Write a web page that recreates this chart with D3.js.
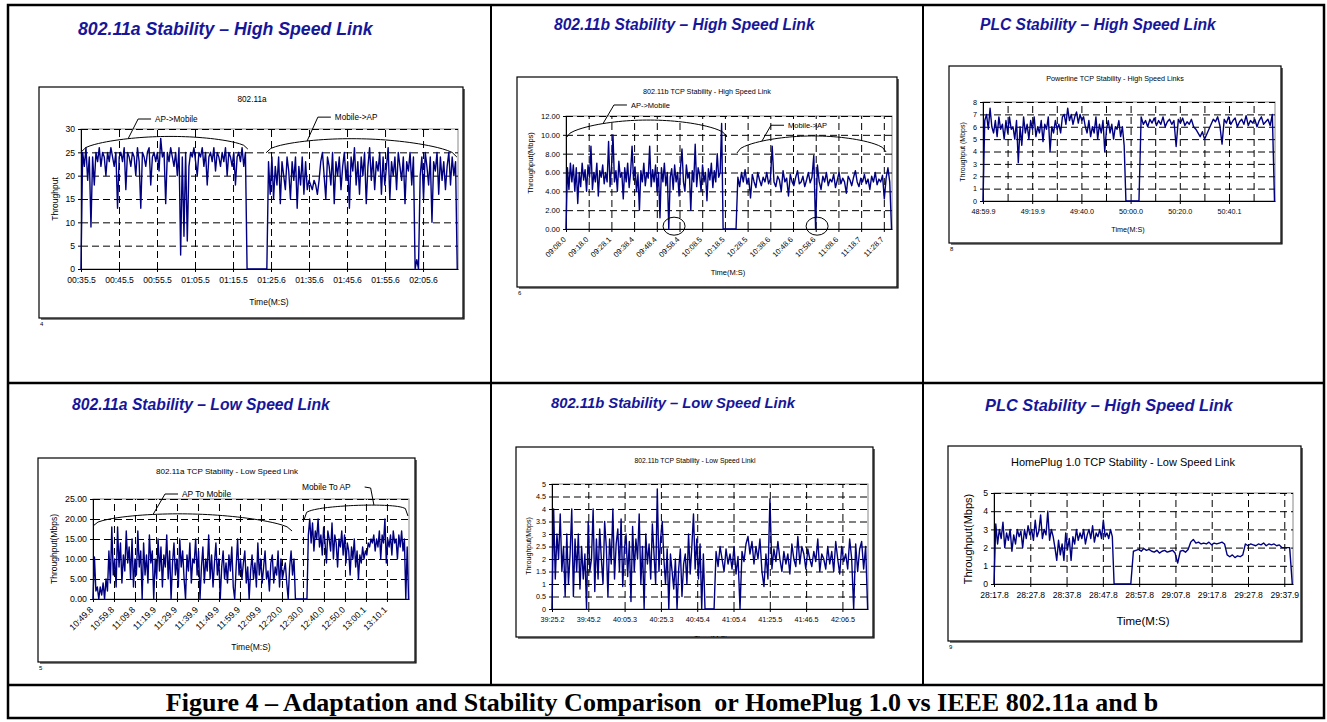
<!DOCTYPE html>
<html>
<head>
<meta charset="utf-8">
<script src="https://cdn.jsdelivr.net/npm/d3@7"></script>
<style>
  body { margin: 0; background: #fff; }
  svg text { font-family: "Liberation Sans", Arial, sans-serif; }
</style>
</head>
<body>
<div class="chart"></div>
<script>
// ---- data (time in seconds from the first tick, throughput) ----

// 802.11a high speed link
var a11HighTicks = ["00:35.5", "00:45.5", "00:55.5", "01:05.5", "01:15.5", "01:25.6", "01:35.6", "01:45.6", "01:55.6", "02:05.6"];
var a11HighApToMobile = [0,25,22,26,19,24,9,24,18,25,23,26,22,25,24,20,25,23,26,24,22,25,13,24,25,23,26,17,25,24,22,25,24,20,26,23,13,25,24,22,25,26,18,24,25,23,25,21,28,24,25,14,25,23,26,24,22,25,20,26,3,24,7,25,6,22,25,24,26,23,20,25,24,26,22,25,18,24,25,23,26,21,25,24,22,25,23,26,20,25,24,22,25,18,24,25,23,26,22,25,0];
var a11HighMobileToAp = [0,23,16,24,15,22,18,24,14,23,20,17,24,21,15,23,19,24,13,22,18,24,16,23,17,19,18,17,19,18,16,19,23,25,20,15,24,22,18,25,14,23,20,24,17,22,25,19,23,13,24,21,26,18,23,16,24,20,25,14,22,26,19,24,17,23,21,25,16,24,18,22,26,15,23,20,24,17,25,22,19,24,14,23,21,25,18,24,0,2,0,20,24,15,25,22,18,24,10,23,21,25,16,24,19,23,17,22,25,18,24,20,23,0];

// 802.11b high speed link
var b11HighTicks = ["09:08.0", "09:18.0", "09:28.1", "09:38.4", "09:48.4", "09:58.4", "10:08.5", "10:18.5", "10:28.5", "10:38.6", "10:48.6", "10:58.6", "11:08.6", "11:18.7", "11:28.7"];
var b11HighApToMobile = [0,6.5,4.2,7,5,6.8,4,6.5,2.7,6,4.5,7,5.2,6.3,4,6.8,5.5,8.8,4.2,6,5,7,3.5,6.2,5.5,6.8,4.8,6,5,9.3,4.5,6.5,10,5,6.2,4,7.2,5.5,6,3.2,6.5,5,7,4.4,6,8.8,5.2,6.6,4,5.8,2,6.2,5,7,4.6,6,5.4,8.8,4.5,6.3,5,6.8,4,6,1.2,6.5,5,7,4.6,6,0,5.5,6.4,4.2,6.8,5,6,3.5,6.5,8.5,5,4,6.8,5.4,6,2,6.2,5,9,4.5,6.5,5.8,4,6.8,5,6,3,6.4,5.2,7,4.4,6.2,5,8,5.5,6,11.2,0];
var b11HighMobileToAp = [0,5.5,4.5,6,5,6.3,4.8,5.4,3.3,5.8,5,4.4,6,5.2,4.6,5.5,5,6,4.8,5.3,8.8,5,4.5,5.6,5.2,4,6.2,5,5.4,3.5,5.8,5,4.6,5.5,6.2,4.8,5,5.6,4.5,5.2,6,4.9,5.5,7.8,0,6.8,5,4.2,5.6,5,6,4.6,5.3,5,5.8,4.4,5.2,6,4.8,5.4,5,3.8,5.6,5.2,4.6,5.5,6.2,5,4.5,5.4,5,5.8,4.8,5.3,4.2,5.6,5,6,4.7,5.3,5,5.7,3.2,5.4,6.5,5,0];

// powerline high speed link
var plcHighTicks = ["48:59.9", "49:19.9", "49:40.0", "50:00.0", "50:20.0", "50:40.1"];
var plcHighFirst = [0,6.5,7,5.8,7.5,6,5.5,6.5,5.2,6.8,5.8,6.2,5,6.5,5.5,6.8,5.8,6,5,6.5,3.1,6,4.5,6.8,5.5,6.2,5,6.5,5.8,6.8,5.2,6,5.5,6.5,4.8,6.2,5.8,6.8,4,6,5.5,6.5,5.8,6.2,5.5,6.8,7,6.2,7.5,6.5,7,6.2,6.8,7.2,6.3,7,6.5,6.8,6,5.5,6.5,5.2,6,5.5,6.8,5,6.2,5.5,6.5,4,5.8,6.5,5.5,6.2,5,6,5.8,6.5,5.2,6,4.5,0];
var plcHighSecond = [0,6.8,6.2,6.5,6,6.6,6.3,6.7,6.1,6.5,6.2,6.8,6,6.4,6.6,6.2,6.5,4.4,6.6,6.3,6.7,6.1,6.4,6.2,6.6,6,5.8,5.5,5.2,5.6,5,5.4,5.8,6.2,6.6,6.4,6.8,6.1,4.6,6.6,6.3,6.8,6.2,6.5,6.7,6,6.4,6.6,6.2,6.9,6.1,6.5,6.3,6.6,6,6.5,6.8,6.2,6.4,6.6,6.1,7,0];

// 802.11a low speed link
var a11LowTicks = ["10:49.8", "10:59.8", "11:09.8", "11:19.9", "11:29.9", "11:39.9", "11:49.9", "11:59.9", "12:09.9", "12:20.0", "12:30.0", "12:40.0", "12:50.0", "13:00.1", "13:10.1"];
var a11LowApToMobile = [0,10.5,2,3,0,3,1,4,0,5,2,12,4,18,6,10,3,18,8,14,4,11,7,17,9,13,5,15,3,10,6,17,8,12,0,14,6,11,4,16,9,12,0,10,5,15,7,13,3,11,8,16,5,12,0,9,14,6,10,3,15,8,12,5,0,11,7,14,4,10,9,15,6,12,0,8,13,4,10,7,16,5,11,3,9,14,6,10,0,8,12,5,9,4,11,7,13,3,0,8,15,6,10,5,9,12,4,8,0,7,11,5,9,3,14,6,10,4,8,12,5,7,2,9,11,4,8,6,12,3,10,5,7,9,4,0,8,12,6,10,0,0];
var a11LowMobileToAp = [0,16,20,14,19,12,17,15,20,13,16,11,18,14,9,17,15,12,19,10,16,14,8,15,13,17,11,16,9,14,12,6,13,10,15,8,12,5,11,9,13,10,12,11,14,13,15,14,16,12,15,13,17,10,16,14,20,9,15,13,16,11,17,14,15,10,16,13,17,12,15,0,13,0];

// 802.11b low speed link
var b11LowTicks = ["39:25.2", "39:45.2", "40:05.3", "40:25.3", "40:45.4", "41:05.4", "41:25.5", "41:46.5", "42:06.5"];
var b11LowFirst = [0,4,1.2,3,2,3.8,1.5,2.5,0.5,3,1,2.2,4,0.5,2.8,1.5,3,0.8,2.5,1.2,2.2,0,3.5,1.5,2,4,0.7,2.8,1.2,3.2,2,1,3.5,2.5,0.5,2.8,1.8,4,1.2,2.6,3.2,1.5,3.6,0.9,2.4,3,1.3,2.7,0.3,3.3,1.5,2.8,2,3.8,1,2.5,0,3,1.8,2.6,1.2,3.4,2.2,1,4.8,1.5,2.8,3.5,2,1,2.4,0,2.2,1.5,0.8,2,0,1.6,2.4,0.5,1.8,2.2,1,3,1.4,2.5,3.8,1.6,2.8,1.2,2.6,0,2.2,0];
var b11LowSecond = [0,2.3,1.7,2.5,2,1.5,2.4,1.8,2.2,1.6,2.5,1.4,2.1,0,2.3,1.9,2.6,2.9,2.2,2.7,1.8,2.5,2,2.8,1.5,0.9,2.2,1.2,4.4,1.6,2.4,1.9,2.7,2,1.5,2.3,1.8,2.2,1.4,2.6,2,1.7,2.9,1.8,2.5,2.2,1.6,2.4,2,1.7,2.3,1.9,2.8,1.5,2.2,2,1.6,2.5,1.8,2.3,1.5,2.7,2,1.4,2.5,1.9,2.2,1.6,2.8,2,0,2.6,1.5,2.4,2.7,1.6,2.5,0];

// HomePlug 1.0 low speed link
var plcLowTicks = ["28:17.8", "28:27.8", "28:37.8", "28:47.8", "28:57.8", "29:07.8", "29:17.8", "29:27.8", "29:37.9"];
var plcLowFirst = [0,3.3,2.2,3,2.5,3.4,2,2.8,2.4,3,1.8,2.7,2.2,3,2.6,2.9,2,3,2.5,3.2,2.7,3,2.4,3.5,2.6,2.9,3.8,2.5,3,2.7,4,2.4,3,2.6,2,1.3,2.4,1.6,2.2,1.3,2.8,1.9,2.5,1.3,2.6,2.2,3,2.4,2.8,2.5,3,2.2,2.7,3,2.5,3.2,2.3,2.8,2.6,3,2.5,3.5,2.6,2.8,2.5,3,2.6,0];
var plcLowSecond = [0,1.8,1.85,1.9,1.8,1.95,1.85,1.9,1.8,1.75,1.85,1.7,1.8,1.85,1.75,1.8,1.85,1.7,1.15,1.8,1.85,1.75,1.9,2.3,2.45,2.25,2.3,2.2,2.25,2.2,2.3,2.15,2.25,2.2,2.25,2.3,2.2,1.6,1.5,1.6,1.45,1.55,1.5,1.6,2.2,2.1,2.2,2.15,2.1,2.2,2.15,2.25,2.1,2.2,2.15,2.2,2.1,2.15,2,2,2,2,0];

var navy = "#000080";
var titleBlue = "#16169a";

var svg = d3.select(".chart").append("svg")
    .attr("width", 1327)
    .attr("height", 722);

// table frame of the figure
var frame = svg.append("g").attr("stroke", "#000").attr("fill", "none");
frame.append("rect").attr("x", 8).attr("y", 5).attr("width", 1316).attr("height", 713).attr("stroke-width", 2.5);
frame.append("line").attr("x1", 491).attr("x2", 491).attr("y1", 5).attr("y2", 685).attr("stroke-width", 2);
frame.append("line").attr("x1", 923).attr("x2", 923).attr("y1", 5).attr("y2", 685).attr("stroke-width", 2);
frame.append("line").attr("x1", 8).attr("x2", 1324).attr("y1", 383).attr("y2", 383).attr("stroke-width", 2.5);
frame.append("line").attr("x1", 8).attr("x2", 1324).attr("y1", 685).attr("y2", 685).attr("stroke-width", 2.5);

svg.append("text")
    .attr("x", 662).attr("y", 711)
    .attr("text-anchor", "middle")
    .style("font-family", "'Liberation Serif', 'Times New Roman', serif")
    .style("font-weight", "bold")
    .style("font-size", "26px")
    .text("Figure 4 \u2013 Adaptation and Stability Comparison \u00a0or HomePlug 1.0 vs IEEE 802.11a and b");

function range(a, b, s) {
    var out = [];
    for (var v = a; v <= b + 1e-9; v += s) out.push(+v.toFixed(4));
    return out;
}

function arcValue(a, t) {
    var u = (t - a.t0) / (a.t1 - a.t0);
    var base = a.v0 + (a.v1 - a.v0) * u;
    return base + (a.peak - (a.v0 + a.v1) / 2) * Math.pow(Math.sin(Math.PI * u), a.e);
}

function drawPanel(p, idx) {
    var g = svg.append("g");

    // panel heading
    g.append("text")
        .attr("x", p.heading.x).attr("y", p.heading.y)
        .style("font-size", p.heading.size + "px").style("font-weight", "bold").style("font-style", "italic")
        .attr("fill", titleBlue)
        .text(p.heading.text);

    // chart box with drop shadow
    var b = p.box;
    g.append("rect").attr("x", b.x).attr("y", b.y).attr("width", b.w).attr("height", b.h)
        .attr("fill", "none").attr("stroke", "#000").attr("stroke-width", 1.2);
    g.append("path").attr("d", "M" + (b.x + b.w + 1) + "," + (b.y + 2) + "V" + (b.y + b.h + 1) + "H" + (b.x + 2))
        .attr("fill", "none").attr("stroke", "#000").attr("stroke-width", 1.2);
    g.append("text").attr("x", b.x + 1).attr("y", b.y + b.h + 8).style("font-size", "6px").text(p.page);

    var clipId = "clip" + idx;
    svg.append("clipPath").attr("id", clipId).append("rect")
        .attr("x", b.x).attr("y", b.y).attr("width", b.w).attr("height", b.h);
    var inner = g.append("g").attr("clip-path", "url(#" + clipId + ")");

    var pl = p.plot;
    var x = d3.scaleLinear().domain(p.xDomain).range([pl.x, pl.x + pl.w]);
    var y = d3.scaleLinear().domain(p.yDomain).range([pl.y + pl.h, pl.y]);
    var fs = p.fs;

    inner.append("text")
        .attr("x", p.title.x).attr("y", p.title.y)
        .attr("text-anchor", "middle").style("font-size", p.title.size + "px")
        .text(p.title.text);

    // plot frame
    inner.append("rect").attr("x", pl.x).attr("y", pl.y).attr("width", pl.w).attr("height", pl.h)
        .attr("fill", "none").attr("stroke", "#888").attr("stroke-width", 1);

    // dashed grid
    var gx = inner.append("g").attr("transform", "translate(0," + (pl.y + pl.h) + ")")
        .call(d3.axisBottom(x).tickValues(p.gridX.filter(function (d) { return d > 0; })).tickSize(-pl.h).tickFormat(""));
    gx.select(".domain").remove();
    gx.selectAll("line").attr("stroke", "#000").attr("stroke-dasharray", "7,4");

    var gy = inner.append("g").attr("transform", "translate(" + pl.x + ",0)")
        .call(d3.axisLeft(y).tickValues(p.yTicks.filter(function (d) { return d > 0; })).tickSize(-pl.w).tickFormat(""));
    gy.select(".domain").remove();
    gy.selectAll("line").attr("stroke", "#000").attr("stroke-dasharray", "7,4");

    // axes
    var yAxis = inner.append("g").attr("transform", "translate(" + pl.x + ",0)")
        .call(d3.axisLeft(y).tickValues(p.yTicks).tickFormat(p.yFmt).tickSize(3).tickSizeOuter(0));
    yAxis.selectAll("text").style("font-size", fs + "px").style("font-family", "'Liberation Sans', Arial");

    var xAxis = inner.append("g").attr("transform", "translate(0," + (pl.y + pl.h) + ")")
        .call(d3.axisBottom(x).tickValues(p.xTicks).tickFormat(function (d, i) { return p.xLabels[i]; }).tickSize(3).tickSizeOuter(0));
    xAxis.selectAll("text").style("font-size", fs + "px").style("font-family", "'Liberation Sans', Arial");
    if (p.rotate) {
        xAxis.selectAll("text")
            .attr("y", 0).attr("dy", "0.35em")
            .attr("text-anchor", "end")
            .attr("transform", "translate(-2,9) rotate(-45)");
    } else {
        xAxis.selectAll("text").attr("y", 8);
    }

    // axis titles
    inner.append("text")
        .attr("transform", "translate(" + p.yLabel.x + "," + p.yLabel.y + ") rotate(-90)")
        .attr("text-anchor", "middle").attr("dy", "0.35em")
        .style("font-size", p.yLabel.size + "px")
        .text(p.yLabel.text);
    inner.append("text")
        .attr("x", p.xLabel.x).attr("y", p.xLabel.y)
        .attr("text-anchor", "middle").style("font-size", p.xLabel.size + "px")
        .text("Time(M:S)");

    // throughput trace
    var pts = [];
    p.segments.forEach(function (s) {
        var n = s.values.length;
        s.values.forEach(function (v, i) { pts.push([s.t0 + i * (s.t1 - s.t0) / (n - 1), v]); });
    });
    inner.append("path")
        .datum(pts)
        .attr("fill", "none")
        .attr("stroke", navy)
        .attr("stroke-width", 1.4)
        .attr("stroke-linejoin", "round")
        .attr("d", d3.line().x(function (d) { return x(d[0]); }).y(function (d) { return y(d[1]); }));

    // hand-drawn annotations: braces, leaders and labels
    (p.notes || []).forEach(function (a) {
        var arc = d3.range(0, 41).map(function (k) {
            var t = a.t0 + (a.t1 - a.t0) * k / 40;
            return [x(t), y(arcValue(a, t))];
        });
        inner.append("path").attr("d", d3.line()(arc)).attr("fill", "none").attr("stroke", "#000").attr("stroke-width", 1);
        var tx = x(a.tText), ty = y(a.vText);
        var label = inner.append("text").attr("x", tx).attr("y", ty)
            .style("font-size", a.size + "px").text(a.text);
        var hook = [x(a.tLead), y(arcValue(a, a.tLead))];
        var lead;
        if (a.side === "right") {
            var end = tx + label.node().getComputedTextLength();
            lead = [[end + 14, ty - 3], [end + 20, ty - 2], hook];
        } else {
            lead = [hook, [tx - 17, ty - 3], [tx - 4, ty - 3]];
        }
        inner.append("path").attr("d", d3.line()(lead)).attr("fill", "none").attr("stroke", "#000").attr("stroke-width", 1);
    });

    (p.rings || []).forEach(function (r) {
        inner.append("ellipse").attr("cx", x(r[0])).attr("cy", y(r[1]))
            .attr("rx", 11).attr("ry", 9)
            .attr("fill", "none").attr("stroke", "#000").attr("stroke-width", 1);
    });
}

var panels = [
    {
        heading: { text: "802.11a Stability \u2013 High Speed Link", x: 78, y: 35, size: 17.7 },
        box: { x: 39, y: 87, w: 424, h: 231 }, page: "4",
        plot: { x: 81, y: 129, w: 377, h: 140 },
        title: { text: "802.11a", x: 252, y: 102, size: 8.2 },
        xDomain: [0, 99.2], yDomain: [0, 30],
        yTicks: range(0, 30, 5), yFmt: d3.format("d"),
        xTicks: range(0, 90, 10), gridX: range(0, 90, 10), xLabels: a11HighTicks,
        fs: 8.6, rotate: false,
        yLabel: { text: "Throughput", x: 55, y: 199, size: 8.5 },
        xLabel: { x: 269, y: 305, size: 8.5 },
        segments: [
            { t0: 0, t1: 43.7, values: a11HighApToMobile },
            { t0: 48.9, t1: 99.0, values: a11HighMobileToAp }
        ],
        notes: [
            { text: "AP->Mobile", size: 8.2, t0: 0.2, v0: 25.2, t1: 43.9, v1: 25.7, peak: 28.4, e: 0.5, tText: 19.5, vText: 31.5, tLead: 12.4 },
            { text: "Mobile->AP", size: 8.2, t0: 48.7, v0: 24.9, t1: 98.9, v1: 24.0, peak: 27.9, e: 0.5, tText: 66.8, vText: 31.9, tLead: 59.5 }
        ]
    },
    {
        heading: { text: "802.11b Stability \u2013 High Speed Link", x: 554, y: 30, size: 15.6 },
        box: { x: 517, y: 77, w: 380, h: 210 }, page: "6",
        plot: { x: 566, y: 116, w: 326, h: 113 },
        title: { text: "802.11b TCP Stability - High Speed Link", x: 707, y: 94, size: 7.2 },
        xDomain: [0, 143.6], yDomain: [0, 12],
        yTicks: range(0, 12, 2), yFmt: d3.format(".2f"),
        xTicks: range(0, 140, 10), gridX: range(0, 140, 10), xLabels: b11HighTicks,
        fs: 7.6, rotate: true,
        yLabel: { text: "Throughput(Mbps)", x: 530, y: 163, size: 7.5 },
        xLabel: { x: 728, y: 275, size: 7.5 },
        segments: [
            { t0: 0, t1: 69.2, values: b11HighApToMobile },
            { t0: 74.9, t1: 143.4, values: b11HighMobileToAp }
        ],
        notes: [
            { text: "AP->Mobile", size: 7.5, t0: 0, v0: 9.66, t1: 70.9, v1: 9.77, peak: 11.57, e: 0.5, tText: 28.6, vText: 12.85, tLead: 16.3 },
            { text: "Mobile->AP", size: 7.5, t0: 75.3, v0: 8.07, t1: 141, v1: 8.18, peak: 9.88, e: 0.5, tText: 97.8, vText: 10.7, tLead: 86.3 }
        ],
        rings: [[47.6, 0.3], [110.6, 0.3]]
    },
    {
        heading: { text: "PLC Stability \u2013 High Speed Link", x: 980, y: 30, size: 15.6 },
        box: { x: 949, y: 66, w: 332, h: 177 }, page: "8",
        plot: { x: 983, y: 102, w: 292, h: 99 },
        title: { text: "Powerline TCP Stability - High Speed Links", x: 1115, y: 81, size: 7.2 },
        xDomain: [0, 118.7], yDomain: [0, 8],
        yTicks: range(0, 8, 1), yFmt: d3.format("d"),
        xTicks: range(0, 100, 20), gridX: range(0, 110, 10), xLabels: plcHighTicks,
        fs: 7.2, rotate: false,
        yLabel: { text: "Throughput (Mbps)", x: 963, y: 152, size: 7 },
        xLabel: { x: 1128, y: 232, size: 7.2 },
        segments: [
            { t0: 0, t1: 58.1, values: plcHighFirst },
            { t0: 63.4, t1: 118.5, values: plcHighSecond }
        ]
    },
    {
        heading: { text: "802.11a Stability \u2013 Low Speed Link", x: 72, y: 410, size: 15.7 },
        box: { x: 38, y: 458, w: 377, h: 204 }, page: "5",
        plot: { x: 93, y: 499, w: 316, h: 100 },
        title: { text: "802.11a TCP Stability - Low Speed Link", x: 227, y: 474, size: 8.1 },
        xDomain: [0, 150.5], yDomain: [0, 25],
        yTicks: range(0, 25, 5), yFmt: d3.format(".2f"),
        xTicks: range(0, 140, 10), gridX: range(0, 140, 10), xLabels: a11LowTicks,
        fs: 8.8, rotate: true,
        yLabel: { text: "Throughput(Mbps)", x: 54, y: 549, size: 8.5 },
        xLabel: { x: 251, y: 650, size: 8.5 },
        segments: [
            { t0: 0, t1: 97.1, values: a11LowApToMobile },
            { t0: 101.9, t1: 150.3, values: a11LowMobileToAp }
        ],
        notes: [
            { text: "AP To Mobile", size: 8.4, t0: 0, v0: 18.25, t1: 94.8, v1: 17, peak: 21.25, e: 0.5, tText: 42.4, vText: 25.5, tLead: 28.6 },
            { text: "Mobile To AP", size: 8.4, side: "right", t0: 100.5, v0: 19.75, t1: 150, v1: 20.75, peak: 23.4, e: 0.2, tText: 99.5, vText: 27.25, tLead: 133.8 }
        ]
    },
    {
        heading: { text: "802.11b Stability \u2013 Low Speed Link", x: 551, y: 408, size: 14.8 },
        box: { x: 516, y: 447, w: 357, h: 190 }, page: "",
        plot: { x: 552, y: 484, w: 316, h: 125 },
        title: { text: "802.11b TCP Stability - Low Speed Linkl", x: 695, y: 463, size: 6.8 },
        xDomain: [0, 174.1], yDomain: [0, 5],
        yTicks: range(0, 5, 0.5), yFmt: d3.format(""),
        xTicks: range(0, 160, 20), gridX: range(0, 160, 20), xLabels: b11LowTicks,
        fs: 7.2, rotate: false,
        yLabel: { text: "Throughput(Mbps)", x: 529, y: 546, size: 7 },
        xLabel: { x: 711, y: 641, size: 7.2 },
        segments: [
            { t0: 0, t1: 84.3, values: b11LowFirst },
            { t0: 89.3, t1: 173.9, values: b11LowSecond }
        ]
    },
    {
        heading: { text: "PLC Stability \u2013 High Speed Link", x: 985, y: 411, size: 16.4 },
        box: { x: 948, y: 446, w: 353, h: 195 }, page: "9",
        plot: { x: 994, y: 493, w: 299, h: 91 },
        title: { text: "HomePlug 1.0 TCP Stability - Low Speed Link", x: 1123, y: 466, size: 11 },
        xDomain: [0, 82.4], yDomain: [0, 5],
        yTicks: range(0, 5, 1), yFmt: d3.format("d"),
        xTicks: range(0, 80, 10), gridX: range(0, 80, 10), xLabels: plcLowTicks,
        fs: 8.6, rotate: false,
        yLabel: { text: "Throughput(Mbps)", x: 968, y: 539, size: 11 },
        xLabel: { x: 1143, y: 625, size: 11.5 },
        segments: [
            { t0: 0, t1: 33.1, values: plcLowFirst },
            { t0: 37.7, t1: 82.2, values: plcLowSecond }
        ]
    }
];

panels.forEach(drawPanel);
</script>
</body>
</html>
